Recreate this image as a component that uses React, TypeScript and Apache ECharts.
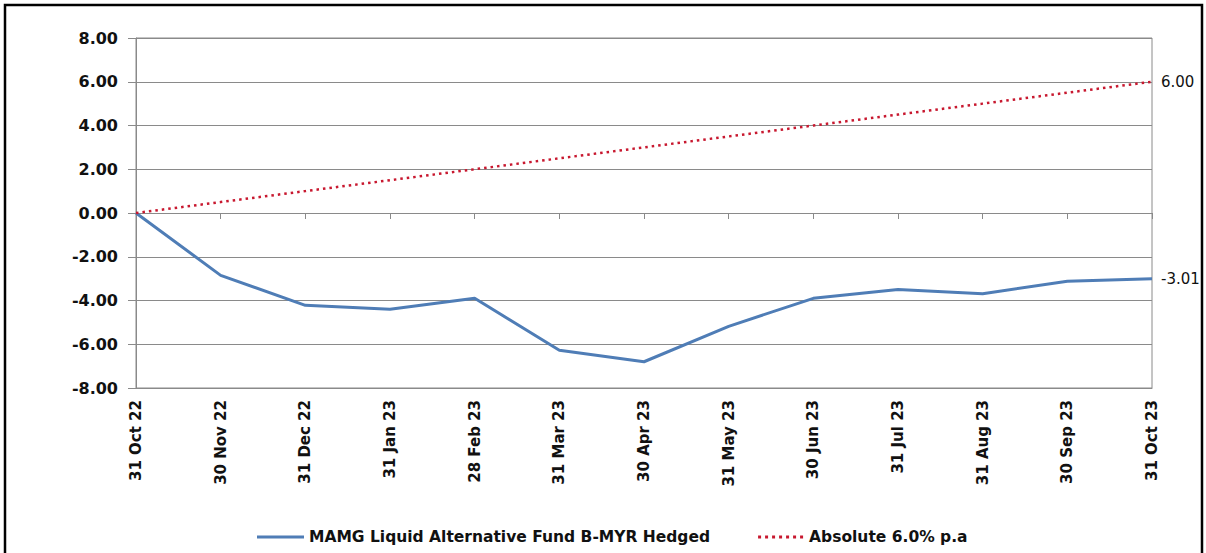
import React, { useEffect, useRef } from "react";
import * as echarts from "echarts";

const categories = [
  "31 Oct 22", "30 Nov 22", "31 Dec 22", "31 Jan 23", "28 Feb 23", "31 Mar 23",
  "30 Apr 23", "31 May 23", "30 Jun 23", "31 Jul 23", "31 Aug 23", "30 Sep 23", "31 Oct 23",
];
const fundValues = [0, -2.85, -4.22, -4.4, -3.9, -6.27, -6.8, -5.18, -3.9, -3.5, -3.69, -3.12, -3.01];
const benchmarkValues = [0, 0.5, 1.0, 1.5, 2.0, 2.5, 3.0, 3.5, 4.0, 4.5, 5.0, 5.5, 6.0];
const fundName = "MAMG Liquid Alternative Fund B-MYR Hedged";
const benchmarkName = "Absolute 6.0% p.a";
const yTicks = { min: -8, max: 8, interval: 2 };

const FONT = "DejaVu Sans";
const GRID_COLOR = "#8a8a8a";
const BLUE = "#4f7db6";
const RED = "#c8182f";

const dottedIcon =
  "path://" +
  [0, 1, 2, 3, 4, 5, 6].map((i) => `M${i * 7},0h3v3h-3z`).join(" ");

export default function App() {
  const ref = useRef<HTMLDivElement>(null);
  useEffect(() => {
    document.body.style.margin = "0";
    const chart = echarts.init(ref.current!, null, { renderer: "svg" });
    const endLabel = {
      show: true,
      distance: 9,
      fontFamily: FONT,
      fontSize: 15,
      color: "#111",
      formatter: (p: any) => Number(p.value).toFixed(2),
    };
    chart.setOption({
      animation: false,
      backgroundColor: "#ffffff",
      grid: {
        left: 136,
        top: 38,
        right: 54,
        bottom: 165,
        show: true,
        borderColor: GRID_COLOR,
        borderWidth: 1,
      },
      graphic: [
        {
          type: "rect",
          shape: { x: 5, y: 5, width: 1197, height: 570 },
          style: { fill: "none", stroke: "#000", lineWidth: 2.5 },
          silent: true,
        },
      ],
      legend: {
        left: 252,
        top: 524,
        itemWidth: 47,
        itemHeight: 3,
        itemGap: 48,
        textStyle: { fontFamily: FONT, fontSize: 15.5, fontWeight: "bold", color: "#111" },
        data: [
          { name: fundName, icon: "rect", itemStyle: { color: BLUE } },
          { name: benchmarkName, icon: dottedIcon, itemStyle: { color: RED } },
        ],
      },
      xAxis: [
        {
          type: "category",
          data: categories,
          boundaryGap: false,
          position: "bottom",
          axisLine: { onZero: false, show: true, lineStyle: { color: GRID_COLOR } },
          axisTick: { show: false },
          axisLabel: {
            rotate: 90,
            margin: 12,
            fontFamily: FONT,
            fontSize: 15,
            fontWeight: "bold",
            color: "#111",
            interval: 0,
          },
          splitLine: { show: false },
        },
        {
          type: "category",
          data: categories,
          boundaryGap: false,
          position: "top",
          axisLine: { onZero: true, show: true, lineStyle: { color: GRID_COLOR } },
          axisTick: { show: true, inside: true, length: 6, interval: 0, lineStyle: { color: GRID_COLOR } },
          axisLabel: { show: false },
          splitLine: { show: false },
        },
      ],
      yAxis: {
        type: "value",
        min: yTicks.min,
        max: yTicks.max,
        interval: yTicks.interval,
        axisLine: { show: true, lineStyle: { color: GRID_COLOR } },
        axisTick: { show: true, length: 8, lineStyle: { color: GRID_COLOR } },
        axisLabel: {
          margin: 18,
          fontFamily: FONT,
          fontSize: 16,
          fontWeight: "bold",
          color: "#111",
          formatter: (v: number) => v.toFixed(2),
        },
        splitLine: { show: true, lineStyle: { color: GRID_COLOR, width: 1 } },
      },
      series: [
        {
          name: fundName,
          type: "line",
          data: fundValues,
          symbol: "none",
          lineStyle: { color: BLUE, width: 3 },
          itemStyle: { color: BLUE },
          endLabel: endLabel,
          z: 3,
        },
        {
          name: benchmarkName,
          type: "line",
          data: benchmarkValues,
          symbol: "none",
          lineStyle: { color: RED, width: 2.5, type: [2.5, 4] },
          itemStyle: { color: RED },
          endLabel: endLabel,
          z: 4,
        },
      ],
    });
    return () => chart.dispose();
  }, []);
  return <div ref={ref} style={{ width: 1206, height: 553 }} />;
}
